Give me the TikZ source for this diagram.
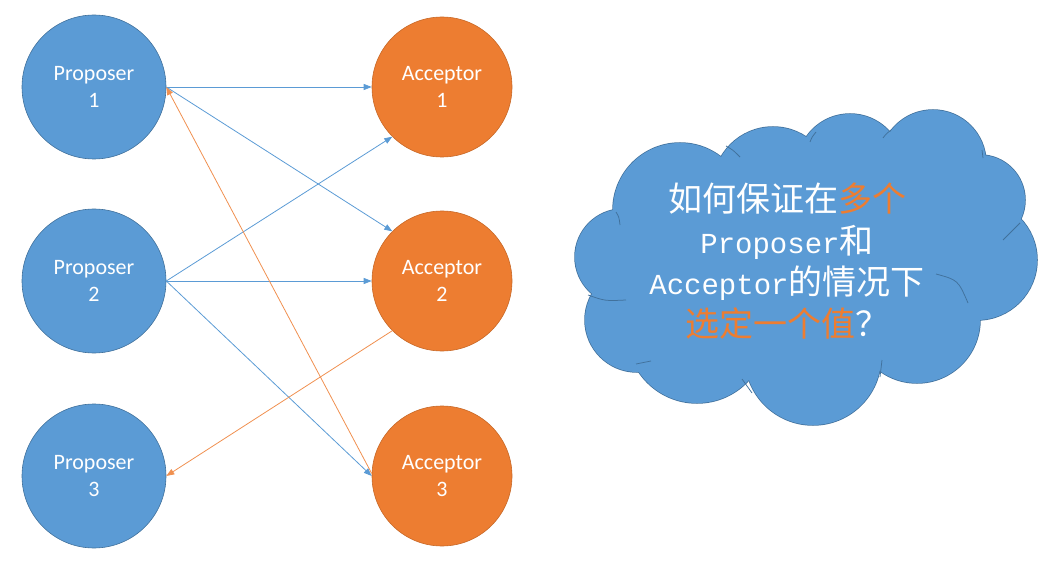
\documentclass[tikz,border=0pt]{standalone}
\usepackage{fontspec}
\setmainfont{Carlito}
\newfontfamily\cjkf{Noto Sans CJK SC}
\newfontfamily\monof{Liberation Mono}
\usetikzlibrary{arrows.meta}
\definecolor{pblue}{HTML}{5B9BD5}
\definecolor{pblueline}{HTML}{41719C}
\definecolor{aorange}{HTML}{ED7D31}
\definecolor{aorangeline}{HTML}{AE5A21}
\begin{document}
\begin{tikzpicture}[x=1pt,y=-1pt,
  prop/.style={circle,fill=pblue,draw=pblueline,line width=0.6pt,minimum size=144pt,inner sep=0pt,
    align=center,text=white,font=\fontsize{22}{27}\selectfont},
  acc/.style={circle,fill=aorange,draw=aorangeline!60!aorange,line width=0.6pt,minimum size=140pt,inner sep=0pt,
    align=center,text=white,font=\fontsize{22}{27}\selectfont},
  barrow/.style={draw=pblue,line width=0.8pt,-{Triangle[length=8pt,width=6pt]}},
  oarrow/.style={draw=aorange!85!white,line width=0.8pt,-{Triangle[length=8pt,width=6pt]}},
  bump/.style={fill=pblue},
  bumpline/.style={draw=pblueline,line width=1.5pt},
  cloudarc/.style={draw=pblueline,line width=0.75pt}]
\useasboundingbox (0,0) rectangle (1043,585);
% nodes
\node[prop] (p1) at (94,87) {Proposer\\1};
\node[prop] (p2) at (94,281) {Proposer\\2};
\node[prop] (p3) at (94,476) {Proposer\\3};
\node[acc] (a1) at (442,87) {Acceptor\\1};
\node[acc] (a2) at (442,281) {Acceptor\\2};
\node[acc] (a3) at (442,476) {Acceptor\\3};
% connectors
\draw[barrow] (p1.east) -- (a1.west);
\draw[barrow] (p1.east) -- (a2.135);
\draw[barrow] (p2.east) -- (a1.225);
\draw[barrow] (p2.east) -- (a2.west);
\draw[barrow] (p2.east) -- (a3.west);
\draw[oarrow] (a3.178) -- (p1.east);
\draw[oarrow] (a2.225) -- (p3.east);
% cloud
\foreach \cx/\cy/\r in {623/257/48, 637/320/52, 697/333/70, 813/357/68, 917/320/63,
  977/260/60, 980/200/45, 933/163/53, 850/167/53, 773/187/60, 680/210/67}{
  \path[bumpline] (\cx,\cy) circle[radius=\r];
}
\path[fill=pblue] (800,265) ellipse[x radius=190,y radius=110];
\foreach \cx/\cy/\r in {623/257/48, 637/320/52, 697/333/70, 813/357/68, 917/320/63,
  977/260/60, 980/200/45, 933/163/53, 850/167/53, 773/187/60, 680/210/67}{
  \path[bump] (\cx,\cy) circle[radius=\r];
}
% inner arcs of the cloud
\path[cloudarc] (616,212) .. controls (619,217) .. (620,225);
\path[cloudarc] (588,295) .. controls (605,301) .. (626,300);
\path[cloudarc] (636,364) .. controls (643,363) .. (651,361);
\path[cloudarc] (742,379) .. controls (747,386) .. (752,393);
\path[cloudarc] (726,146) .. controls (733,150) .. (740,157);
\path[cloudarc] (810,142) .. controls (812,137) .. (816,132);
\path[cloudarc] (883,138) .. controls (886,134) .. (891,130);
\path[cloudarc] (982,150) .. controls (983,154) .. (983,158);
\path[cloudarc] (1003,240) .. controls (1012,232) .. (1020,223);
\path[cloudarc] (936,274) .. controls (958,280) .. (968,303);
\path[cloudarc] (882,360) .. controls (881,368) .. (880,377);
\node[align=center,text=white,font=\fontsize{34}{41.5}\selectfont] (q) at (787,261)
  {{\cjkf 如何保证在\textcolor{aorange}{多个}}\\
   {\fontsize{29}{41.5}\selectfont\monof Proposer}{\cjkf 和}\\
   {\fontsize{29}{41.5}\selectfont\monof Acceptor}{\cjkf 的情况下}\\
   {\cjkf\textcolor{aorange}{选定一个值}？}};
\end{tikzpicture}
\end{document}
